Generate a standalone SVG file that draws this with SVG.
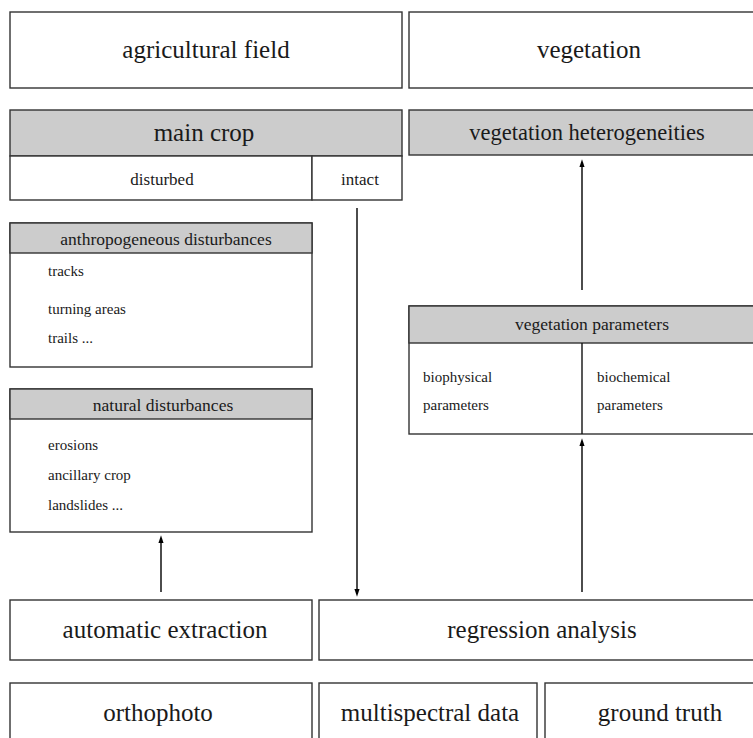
<svg xmlns="http://www.w3.org/2000/svg" width="753" height="738" viewBox="0 0 753 738">
<defs>
<style>
.box{fill:#fff;stroke:#333;stroke-width:1.4}
.hdr{fill:#cccccc;stroke:#333;stroke-width:1.4}
text{font-family:"Liberation Serif","Times New Roman",serif;fill:#1a1a1a}
.big{font-size:25px;text-anchor:middle}
.mid{font-size:17.5px;text-anchor:middle}
.sm{font-size:15px}
.mc{font-size:17px;text-anchor:middle}
.conn{stroke:#000;stroke-width:1.4;fill:none;marker-end:url(#ah)}
</style>
<marker id="ah" markerUnits="userSpaceOnUse" markerWidth="8" markerHeight="12" refX="8" refY="4" orient="auto" viewBox="0 0 12 8">
<path d="M0,0 L12,4 L0,8 z" fill="#000"/>
</marker>
</defs>
<g id="agricultural-field">
<rect class="box" x="10" y="12" width="392" height="76"/>
<text class="big" x="206" y="58">agricultural field</text>
</g>
<g id="vegetation">
<rect class="box" x="409" y="12" width="365" height="76"/>
<text class="big" x="589" y="58">vegetation</text>
</g>
<g id="main-crop">
<rect class="hdr" x="10" y="110" width="392" height="46"/>
<rect class="box" x="10" y="156" width="302" height="44"/>
<rect class="box" x="312" y="156" width="90" height="44"/>
<text class="big" x="204" y="141">main crop</text>
<text class="mc" x="162" y="185">disturbed</text>
<text class="mc" x="360" y="185">intact</text>
</g>
<g id="vegetation-heterogeneities">
<rect class="hdr" x="409" y="110" width="365" height="45"/>
<text class="big" x="587" y="140" style="font-size:22.5px">vegetation heterogeneities</text>
</g>
<g id="anthropogeneous-disturbances">
<rect class="box" x="10" y="223" width="302" height="144"/>
<rect class="hdr" x="10" y="223" width="302" height="30"/>
<text class="mid" x="166" y="245">anthropogeneous disturbances</text>
<text class="sm" x="48" y="276">tracks</text>
<text class="sm" x="48" y="314">turning areas</text>
<text class="sm" x="48" y="343">trails ...</text>
</g>
<g id="natural-disturbances">
<rect class="box" x="10" y="389" width="302" height="143"/>
<rect class="hdr" x="10" y="389" width="302" height="30"/>
<text class="mid" x="163" y="411">natural disturbances</text>
<text class="sm" x="48" y="450">erosions</text>
<text class="sm" x="48" y="480">ancillary crop</text>
<text class="sm" x="48" y="510">landslides ...</text>
</g>
<g id="vegetation-parameters">
<rect class="box" x="409" y="306" width="365" height="128"/>
<rect class="hdr" x="409" y="306" width="365" height="37"/>
<line x1="582" y1="343" x2="582" y2="434" stroke="#111" stroke-width="1.4"/>
<text class="mid" x="592" y="330">vegetation parameters</text>
<text class="sm" x="423" y="382">biophysical</text>
<text class="sm" x="423" y="410">parameters</text>
<text class="sm" x="597" y="382">biochemical</text>
<text class="sm" x="597" y="410">parameters</text>
</g>
<g id="automatic-extraction">
<rect class="box" x="10" y="600" width="302" height="60"/>
<text class="big" x="165" y="638">automatic extraction</text>
</g>
<g id="regression-analysis">
<rect class="box" x="319" y="600" width="450" height="60"/>
<text class="big" x="542" y="638">regression analysis</text>
</g>
<g id="orthophoto">
<rect class="box" x="10" y="683" width="302" height="70"/>
<text class="big" x="158" y="721">orthophoto</text>
</g>
<g id="multispectral-data">
<rect class="box" x="319" y="683" width="218" height="70"/>
<text class="big" x="430" y="721">multispectral data</text>
</g>
<g id="ground-truth">
<rect class="box" x="545" y="683" width="230" height="70"/>
<text class="big" x="660" y="721">ground truth</text>
</g>
<g id="connectors">
<line class="conn" x1="582" y1="290" x2="582" y2="162"/>
<line class="conn" x1="582" y1="592" x2="582" y2="441"/>
<line class="conn" x1="161" y1="592" x2="161" y2="538"/>
<line class="conn" x1="357" y1="208" x2="357" y2="594"/>
</g>
</svg>
